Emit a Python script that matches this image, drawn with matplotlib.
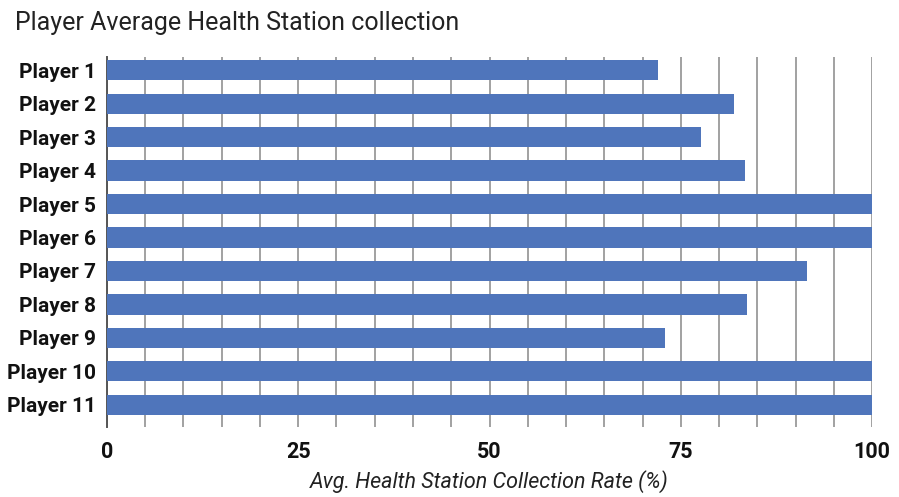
import matplotlib
matplotlib.use("Agg")
import matplotlib.pyplot as plt
import numpy as np

players = ["Player 1", "Player 2", "Player 3", "Player 4", "Player 5", "Player 6",
           "Player 7", "Player 8", "Player 9", "Player 10", "Player 11"]
rates = [72, 82, 77.6, 83.4, 100, 100, 91.5, 83.7, 73, 100, 100]
x_ticks = [0, 25, 50, 75, 100]

plt.rcParams["font.family"] = ["Roboto", "DejaVu Sans"]

fig = plt.figure(figsize=(8.99, 4.97), dpi=100)
ax = fig.add_axes([0.119, 0.1408, 0.851, 0.7445])

y = np.arange(len(players))
ax.barh(y, rates, height=0.6, color="#4f75bb", zorder=3)

ax.set_xlim(0, 100)
ax.set_ylim(10.66, -0.39)
ax.set_xticks(x_ticks)
ax.set_xticks(np.arange(0, 101, 5), minor=True)
ax.set_yticks(y)
ax.set_yticklabels(players, fontsize=15, fontweight="bold", color="#111111")
ax.set_xticklabels([str(v) for v in x_ticks], fontsize=15.5, fontweight="bold", color="#111111")

ax.grid(axis="x", which="both", color="#9a9a9a", linewidth=1.3, zorder=0)
ax.tick_params(axis="both", which="both", length=0)
ax.tick_params(axis="y", pad=8)
ax.tick_params(axis="x", pad=10)

for side in ["top", "right", "bottom"]:
    ax.spines[side].set_visible(False)
ax.spines["left"].set_color("#555555")
ax.spines["left"].set_linewidth(1.4)

ax.set_xlabel("Avg. Health Station Collection Rate (%)", fontsize=15.5, style="italic",
              color="#222222", va="baseline")
ax.xaxis.set_label_coords(0.5, -0.165)

fig.text(0.0167, 0.9396, "Player Average Health Station collection", fontsize=18,
         color="#222222", ha="left", va="baseline")

fig.savefig("out.png", dpi=100)
